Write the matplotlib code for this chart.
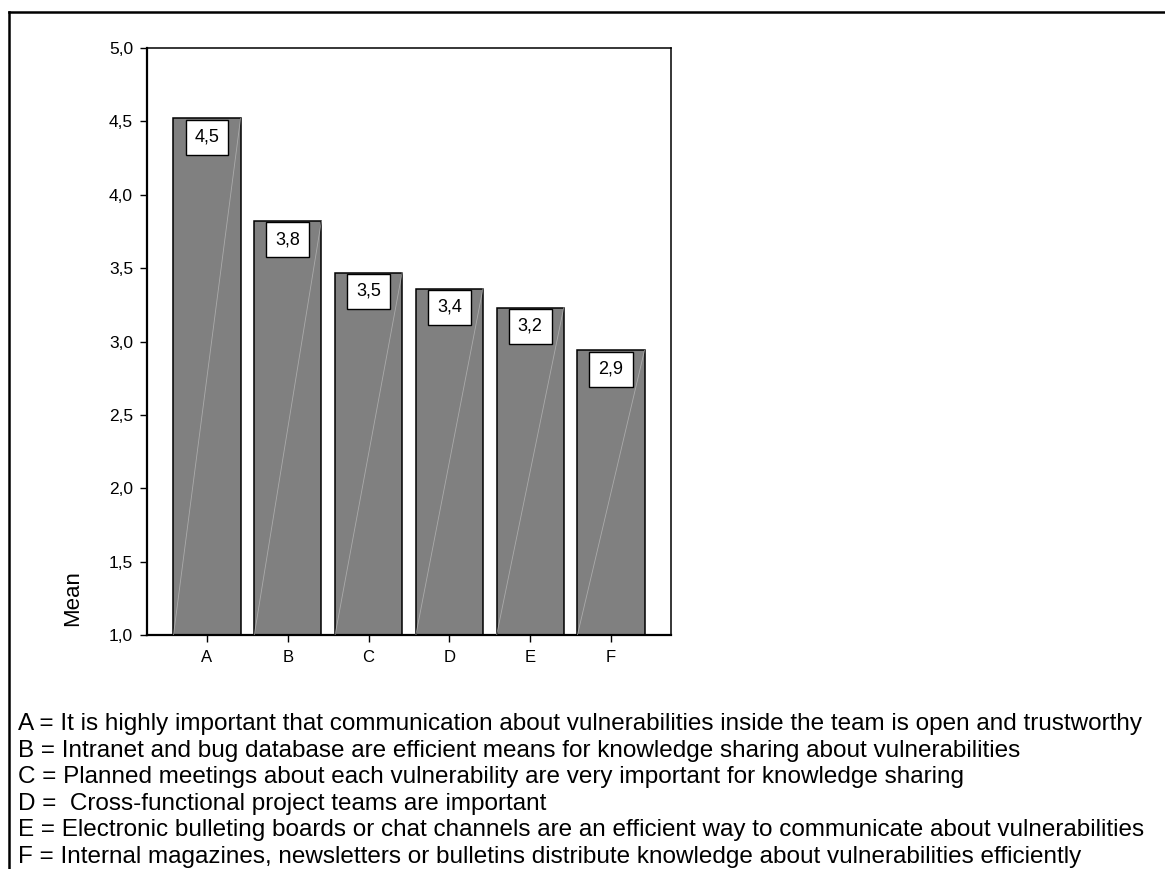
import matplotlib
matplotlib.use('Agg')
import matplotlib.pyplot as plt
from matplotlib.lines import Line2D

plt.rcParams['font.family'] = ['Liberation Sans', 'DejaVu Sans']

# Mean agreement per statement
categories = ['A', 'B', 'C', 'D', 'E', 'F']
means = [4.52, 3.82, 3.47, 3.36, 3.23, 2.94]
y_ticks = [1.0, 1.5, 2.0, 2.5, 3.0, 3.5, 4.0, 4.5, 5.0]
statements = [
    'A = It is highly important that communication about vulnerabilities inside the team is open and trustworthy',
    'B = Intranet and bug database are efficient means for knowledge sharing about vulnerabilities',
    'C = Planned meetings about each vulnerability are very important for knowledge sharing',
    'D =  Cross-functional project teams are important',
    'E = Electronic bulleting boards or chat channels are an efficient way to communicate about vulnerabilities',
    'F = Internal magazines, newsletters or bulletins distribute knowledge about vulnerabilities efficiently',
]

W, H = 1165, 869
fig = plt.figure(figsize=(W / 100, H / 100), dpi=100)
ax = fig.add_axes([147 / W, 1 - 635 / H, (671 - 147) / W, (635 - 48) / H])

base = 1.0
xs = list(range(len(categories)))
bw = 0.83
heights = [m - base for m in means]
bars = ax.bar(xs, heights, bottom=base, width=bw, color='#808080',
              edgecolor='black', linewidth=1.1, zorder=2)

# faint diagonal seam across each bar
for x, m in zip(xs, means):
    ax.plot([x - bw / 2, x + bw / 2], [base, m], color='#bdbdbd', lw=0.6,
            alpha=0.7, zorder=3)

# value boxes just below the top of each bar
for x, m in zip(xs, means):
    ax.annotate(f'{m:.1f}'.replace('.', ','), xy=(x, m), xytext=(0, -13.5),
                textcoords='offset points', ha='center', va='center',
                fontsize=13, zorder=4,
                bbox=dict(boxstyle='square,pad=0.5', fc='white',
                          ec='black', lw=1.0))

ax.set_xlim(-0.743, len(categories) - 1 + 0.743)
ax.set_ylim(1.0, 5.0)
ax.set_yticks(y_ticks)
ax.set_yticklabels([f'{t:.1f}'.replace('.', ',') for t in y_ticks])
ax.set_xticks(xs)
ax.set_xticklabels(categories)
ax.tick_params(axis='y', length=5, width=1.0, pad=5, labelsize=12.5)
ax.tick_params(axis='x', length=5, width=1.0, pad=6, labelsize=12)
for s in ax.spines.values():
    s.set_linewidth(1.1)
ax.spines['left'].set_linewidth(1.6)
ax.spines['bottom'].set_linewidth(1.6)

ax.set_ylabel('Mean', loc='bottom', fontsize=16)
ax.yaxis.set_label_coords(-0.122, 0.015)

# statement key underneath the chart
for i, s in enumerate(statements):
    fig.text(18 / W, 1 - (730 + i * 26.6) / H, s, fontsize=17.45,
             ha='left', va='baseline')

# outer frame (top and left edges)
fig.add_artist(Line2D([9 / W, 1.0], [1 - 12 / H, 1 - 12 / H],
                      transform=fig.transFigure, color='black', lw=1.8))
fig.add_artist(Line2D([9 / W, 9 / W], [0.0, 1 - 12 / H],
                      transform=fig.transFigure, color='black', lw=1.8))

fig.savefig('out.png', dpi=100)
